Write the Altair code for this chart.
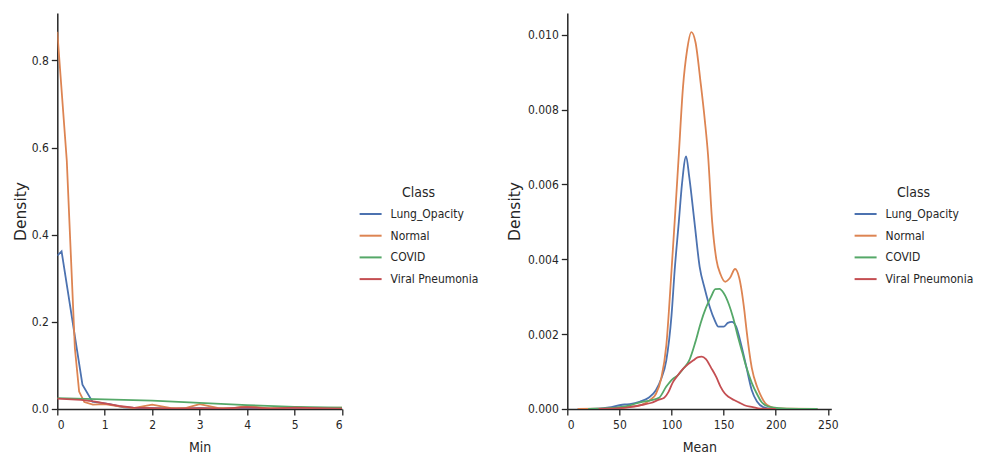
import altair as alt
import pandas as pd

CLASSES = ["Lung_Opacity", "Normal", "COVID", "Viral Pneumonia"]
COLORS = ["#4c72b0", "#dd8452", "#55a868", "#c44e52"]

# ---------- Left panel: density of "Min" ----------
min_lung_x = [0, 0.09, 0.53, 0.74, 1.1, 1.4, 1.7, 2.0, 2.5, 3.0, 3.5, 4.0, 4.5, 5.0, 5.5, 6.0]
min_lung_y = [0.352, 0.362, 0.056, 0.017, 0.011, 0.004, 0.002, 0.002, 0.001, 0.002, 0.001, 0.002, 0.001, 0.002, 0.001, 0.001]

min_norm_x = [0, 0.2, 0.37, 0.46, 0.57, 0.75, 1.0, 1.3, 1.6, 2.0, 2.4, 2.7, 3.0, 3.4, 3.7, 4.0, 4.4, 4.7, 5.0, 5.4, 6.0]
min_norm_y = [0.866, 0.57, 0.14, 0.04, 0.016, 0.010, 0.011, 0.006, 0.002, 0.010, 0.002, 0.002, 0.011, 0.002, 0.002, 0.007, 0.002, 0.002, 0.004, 0.002, 0.003]

min_covid_x = [0, 1, 2, 3, 4, 5, 6]
min_covid_y = [0.025, 0.022, 0.019, 0.014, 0.009, 0.005, 0.003]

min_viral_x = [0, 0.5, 0.8, 1.0, 1.3, 1.6, 2.0, 2.5, 3.0, 3.5, 4.0, 4.5, 5.0, 6.0]
min_viral_y = [0.024, 0.021, 0.017, 0.013, 0.007, 0.003, 0.002, 0.001, 0.002, 0.001, 0.004, 0.001, 0.003, 0.001]

# ---------- Right panel: density of "Mean" ----------
mean_lung_x = [10, 30, 40, 50, 55, 60, 70, 78, 85, 90, 95, 100, 103, 107, 110, 114, 117, 122, 127,
               132, 137, 141, 145, 150, 154, 158, 162, 167, 172, 177, 182, 188, 195, 210, 240]
mean_lung_y = [0.0, 0.00001, 0.00004, 0.0001, 0.00012, 0.00013, 0.0002, 0.0003, 0.0005, 0.0008,
               0.0013, 0.0025, 0.0037, 0.0050, 0.0060, 0.00675, 0.0062, 0.0050, 0.0038,
               0.0032, 0.0027, 0.0024, 0.0022, 0.0022, 0.0023, 0.00233, 0.0022, 0.0017,
               0.0011, 0.0005, 0.0002, 0.00005, 0.00001, 0.0, 0.0]

mean_norm_x = [10, 30, 50, 60, 70, 80, 85, 90, 95, 100, 103, 107, 111, 115, 119, 123, 128, 132,
               135, 139, 143, 147, 151.5, 156, 161, 165, 170, 172, 177, 182, 185, 190, 195, 200, 215, 240]
mean_norm_y = [0.0, 0.00001, 0.00002, 0.00006, 0.0001, 0.00025, 0.0004, 0.0008, 0.0017, 0.0037,
               0.0050, 0.0068, 0.0086, 0.0096, 0.01007, 0.0098, 0.0087, 0.0077, 0.0068,
               0.0050, 0.0040, 0.0036, 0.0034, 0.0035, 0.00374, 0.0035, 0.0026, 0.0021,
               0.0011, 0.0006, 0.0004, 0.00015, 0.00006, 0.00002, 0.00001, 0.0]

mean_covid_x = [20, 40, 50, 60, 70, 80, 88, 95, 101, 106, 112, 117, 123, 128, 133, 138, 142, 146,
                150, 155, 159, 164, 168, 172, 177, 182, 186, 190, 197, 210, 240]
mean_covid_y = [0.0, 0.00002, 0.00005, 0.0001, 0.00018, 0.00023, 0.0003, 0.0006, 0.0008, 0.0009,
                0.0011, 0.0013, 0.0018, 0.0023, 0.0027, 0.0030, 0.0032, 0.00321, 0.0031,
                0.0028, 0.00245, 0.0019, 0.0015, 0.0011, 0.0007, 0.0004, 0.0002, 0.0001,
                0.00004, 0.00001, 0.0]

mean_viral_x = [30, 40, 50, 60, 70, 80, 88, 93, 97, 101, 106, 111, 116, 121, 125, 129, 133, 138,
                143, 147, 151, 155, 160, 165, 170, 178, 185, 200]
mean_viral_y = [0.0, 0.00001, 0.00002, 0.00005, 0.0001, 0.00016, 0.00025, 0.0003, 0.00045, 0.0007,
                0.0009, 0.00107, 0.0012, 0.0013, 0.00138, 0.0014, 0.00133, 0.0011, 0.00085,
                0.0006, 0.00042, 0.00032, 0.00024, 0.00017, 0.0001, 0.00005, 0.00001, 0.0]


def long_table(xs, ys):
    rows = []
    for cls, x, y in zip(CLASSES, xs, ys):
        for i, (a, b) in enumerate(zip(x, y)):
            rows.append({"x": a, "y": b, "Class": cls, "i": i})
    return pd.DataFrame(rows)


min_df = long_table([min_lung_x, min_norm_x, min_covid_x, min_viral_x],
                    [min_lung_y, min_norm_y, min_covid_y, min_viral_y])
mean_df = long_table([mean_lung_x, mean_norm_x, mean_covid_x, mean_viral_x],
                     [mean_lung_y, mean_norm_y, mean_covid_y, mean_viral_y])

COND = "DejaVu Sans Condensed, DejaVu Sans"
AX = "#262626"

color_scale = alt.Scale(domain=CLASSES, range=COLORS)


def panel(df, xtitle, xdomain, xticks, ydomain, yticks, yfmt, ytitle_x, legend_x, interp, w):
    legend = alt.Legend(
        title="Class", orient="none", legendX=legend_x, legendY=173,
        titleAnchor="middle", titleFont=COND, titleFontSize=14, titleFontWeight="normal",
        titleColor=AX, titlePadding=2,
        labelFont=COND, labelFontSize=12, labelColor=AX, labelOffset=8,
        symbolType="stroke", symbolSize=484, symbolStrokeWidth=2, rowPadding=3.7, padding=0,
    )
    return alt.Chart(df).mark_line(strokeWidth=1.8, clip=True, interpolate=interp).encode(
        x=alt.X("x:Q", title=xtitle,
                scale=alt.Scale(domain=xdomain, nice=False, zero=False),
                axis=alt.Axis(values=xticks, format="d", grid=False, titleY=39,
                              titleBaseline="middle", labelPadding=5,
                              titleFont=COND, titleFontSize=14, titleFontWeight="normal")),
        y=alt.Y("y:Q", title="Density",
                scale=alt.Scale(domain=ydomain, nice=False),
                axis=alt.Axis(values=yticks, format=yfmt, grid=False, titleX=ytitle_x,
                              titleBaseline="middle", titleFont="DejaVu Sans", titleFontSize=15.5,
                              titleFontWeight="normal", labelPadding=3)),
        color=alt.Color("Class:N", scale=color_scale, sort=CLASSES, legend=legend),
        order="i:Q",
    ).properties(width=w, height=396)


left = panel(min_df, "Min", [0, 6], [0, 1, 2, 3, 4, 5, 6], [0, 0.909],
             [0, 0.2, 0.4, 0.6, 0.8], ".1f", -37, 301.3, "linear", 284.7)
right = panel(mean_df, "Mean", [0, 253.3], [0, 50, 100, 150, 200, 250], [0, 0.01058],
              [0, 0.002, 0.004, 0.006, 0.008, 0.010], ".3f", -53, 286.3, "monotone", 264)

chart = alt.hconcat(left, right, spacing=225, bounds="flush").resolve_legend(
    color="independent"
).resolve_scale(
    x="independent", y="independent", color="independent"
).properties(
    padding={"left": 13.3, "top": 13, "right": 0, "bottom": 0},
    background="white",
).configure_view(stroke=None).configure_axis(
    domainColor=AX, domainWidth=1.5, tickColor=AX, tickWidth=1.3, tickSize=6,
    labelFont=COND, labelFontSize=12, labelColor=AX,
    titleFont=COND, titleFontSize=14, titleFontWeight="normal", titleColor=AX,
)

chart.save("out.html", embed_options={"renderer": "svg", "actions": False})
